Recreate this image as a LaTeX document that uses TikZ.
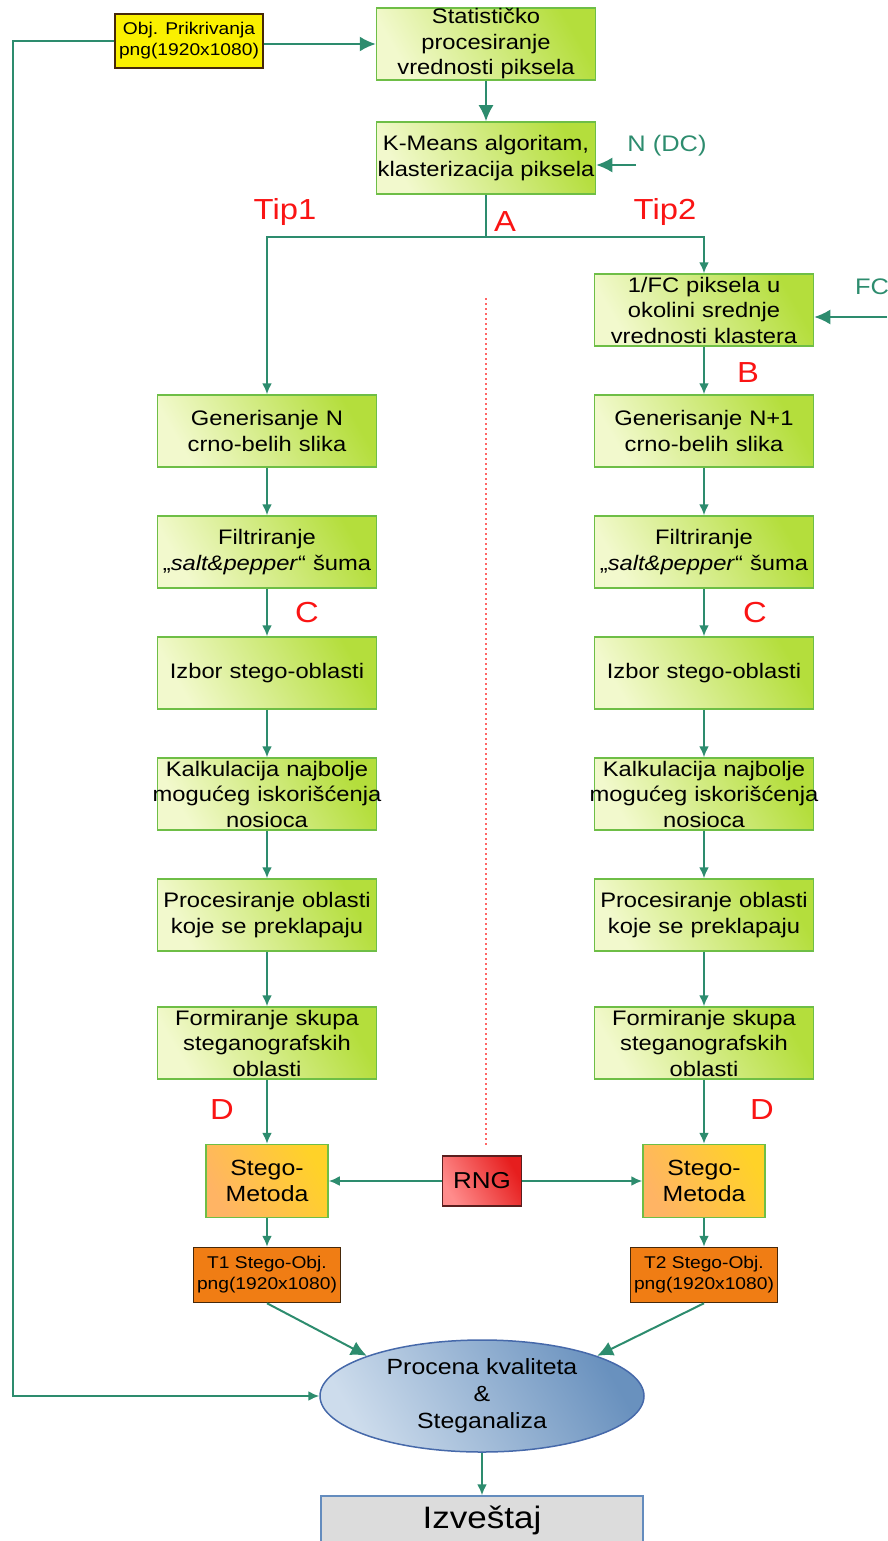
\documentclass[tikz,border=0pt]{standalone}
\usepackage{fontspec}
\setmainfont{Liberation Sans}[FakeStretch=1.13]
\usetikzlibrary{arrows.meta,shapes.geometric,calc}

\definecolor{linkteal}{RGB}{45,140,110}
\definecolor{boxgreen}{RGB}{110,190,70}
\definecolor{lightgreen}{RGB}{242,249,205}
\definecolor{darkgreen}{RGB}{180,222,60}
\definecolor{markred}{RGB}{250,20,20}
\definecolor{lightorange}{RGB}{255,180,100}
\definecolor{darkorange}{RGB}{255,210,40}
\definecolor{outorange}{RGB}{240,125,20}
\definecolor{outbrown}{RGB}{70,40,10}
\definecolor{objyellow}{RGB}{250,240,0}
\definecolor{lightred}{RGB}{255,140,140}
\definecolor{darkred}{RGB}{230,30,30}
\definecolor{rngborder}{RGB}{90,30,30}
\definecolor{lightblue}{RGB}{205,220,236}
\definecolor{darkblue}{RGB}{105,145,190}
\definecolor{evalborder}{RGB}{70,105,170}
\definecolor{reportborder}{RGB}{100,140,190}
\definecolor{reportgray}{RGB}{220,220,220}

\tikzset{
	proc/.style={draw=boxgreen, line width=1.5pt, left color=lightgreen, right color=darkgreen, shading angle=120,
		text width=219pt, minimum height=72pt, inner sep=0pt, align=center,
		font=\fontsize{21}{25.5}\selectfont},
	stego/.style={draw=boxgreen, line width=1.5pt, left color=lightorange, right color=darkorange, shading angle=120,
		minimum width=122pt, minimum height=73pt, inner sep=0pt, align=center,
		font=\fontsize{22}{26}\selectfont},
	outbox/.style={draw=outbrown, line width=1.5pt, fill=outorange,
		minimum width=147pt, minimum height=55pt, inner sep=0pt, align=center,
		font=\fontsize{17}{21}\selectfont},
	objbox/.style={outbox, fill=objyellow, minimum width=148pt, minimum height=54pt},
	rngbox/.style={draw=rngborder, line width=1.5pt, left color=lightred, right color=darkred, shading angle=120,
		minimum width=79pt, minimum height=50pt, inner sep=0pt, font=\fontsize{23}{28}\selectfont},
	evalnode/.style={ellipse, draw=evalborder, line width=1.5pt, left color=lightblue, right color=darkblue, shading angle=120,
		minimum width=324pt, minimum height=112pt, inner sep=0pt, align=center,
		font=\fontsize{22}{27}\selectfont},
	report/.style={draw=reportborder, line width=1.5pt, fill=reportgray,
		minimum width=322pt, minimum height=48pt, inner sep=0pt, font=\fontsize{31}{36}\selectfont},
	redmark/.style={text=markred, font=\fontsize{29}{30}\selectfont},
	inlbl/.style={text=linkteal, font=\fontsize{22.5}{28}\selectfont},
	link/.style={draw=linkteal, line width=2pt},
	flow/.style={link, -{Latex[length=11pt, width=10pt]}},
	bigflow/.style={link, -{Latex[length=16pt, width=15pt]}}
}

\begin{document}
\begin{tikzpicture}[x=1pt, y=-1pt]
	\useasboundingbox (0,0) rectangle (887,1541);

	\node[objbox](obj) at (189,41) {Obj. Prikrivanja\\png(1920x1080)};
	\node[proc](stat) at (486,44) {Statističko\\procesiranje\\vrednosti piksela};
	\node[proc](kmeans) at (486,158) {K-Means algoritam,\\klasterizacija piksela};
	\node[inlbl](ndc) at (667,146) {N (DC)};
	\coordinate(ndcin) at (636,165);

	\node[redmark](tip1) at (285,212) {Tip1};
	\node[redmark](tip2) at (665,212) {Tip2};
	\node[redmark](lblA) at (505,222) {A};
	\coordinate(split) at (486,237);

	% Tip2 ulaz
	\node[proc](fc) at (704,310) {1/FC piksela u\\okolini srednje\\vrednosti klastera};
	\node[inlbl](fclbl) at (872,287) {FC};
	\coordinate(fcin) at (887,317);
	\node[redmark](lblB) at (748,373) {B};

	% leva kolona
	\node[proc](gen1) at (267,431) {Generisanje N\\crno-belih slika};
	\node[proc](filt1) at (267,552) {Filtriranje\\„\textit{salt\&pepper}“ šuma};
	\node[redmark](lblC1) at (307,613) {C};
	\node[proc](izb1) at (267,673) {Izbor stego-oblasti};
	\node[proc](kalk1) at (267,794) {Kalkulacija najbolje\\\makebox[\linewidth]{mogućeg iskorišćenja}\\nosioca};
	\node[proc](prek1) at (267,915) {Procesiranje oblasti\\koje se preklapaju};
	\node[proc](form1) at (267,1043) {Formiranje skupa\\steganografskih\\oblasti};
	\node[redmark](lblD1) at (222,1110) {D};
	\node[stego](stego1) at (267,1181) {Stego-\\Metoda};
	\node[outbox](t1) at (267,1275) {T1 Stego-Obj.\\png(1920x1080)};

	% desna kolona
	\node[proc](gen2) at (704,431) {Generisanje N+1\\crno-belih slika};
	\node[proc](filt2) at (704,552) {Filtriranje\\„\textit{salt\&pepper}“ šuma};
	\node[redmark](lblC2) at (755,613) {C};
	\node[proc](izb2) at (704,673) {Izbor stego-oblasti};
	\node[proc](kalk2) at (704,794) {Kalkulacija najbolje\\\makebox[\linewidth]{mogućeg iskorišćenja}\\nosioca};
	\node[proc](prek2) at (704,915) {Procesiranje oblasti\\koje se preklapaju};
	\node[proc](form2) at (704,1043) {Formiranje skupa\\steganografskih\\oblasti};
	\node[redmark](lblD2) at (762,1110) {D};
	\node[stego](stego2) at (704,1181) {Stego-\\Metoda};
	\node[outbox](t2) at (704,1275) {T2 Stego-Obj.\\png(1920x1080)};

	\node[rngbox](rng) at (482,1181) {RNG};
	\coordinate(dotT) at (486,298);
	\coordinate(dotB) at (486,1145);

	\node[evalnode](eval) at (482,1396) {Procena kvaliteta\\\&\\Steganaliza};
	\node[report](report) at (482,1520) {Izveštaj};
	\coordinate(loopT) at (13,41);
	\coordinate(loopB) at (13,1396);

	\draw[red!60, line width=1.5pt, dash pattern=on 2pt off 3pt] (dotT)--(dotB);

	\draw[bigflow] (obj.east |- stat.west)--(stat.west);
	\draw[bigflow] (stat)--(kmeans);
	\draw[bigflow] (ndcin)--(ndcin -| kmeans.east);
	\draw[bigflow] (fcin)--(fcin -| fc.east);
	\draw[link] (kmeans)--(split);
	\draw[flow] (split) -| (gen1);
	\draw[flow] (split) -| (fc);
	\draw[flow] (fc)--(gen2);

	\draw[flow] (gen1)--(filt1);
	\draw[flow] (filt1)--(izb1);
	\draw[flow] (izb1)--(kalk1);
	\draw[flow] (kalk1)--(prek1);
	\draw[flow] (prek1)--(form1);
	\draw[flow] (form1)--(stego1);
	\draw[flow] (stego1)--(t1);

	\draw[flow] (gen2)--(filt2);
	\draw[flow] (filt2)--(izb2);
	\draw[flow] (izb2)--(kalk2);
	\draw[flow] (kalk2)--(prek2);
	\draw[flow] (prek2)--(form2);
	\draw[flow] (form2)--(stego2);
	\draw[flow] (stego2)--(t2);

	\draw[flow] (rng)--(stego1);
	\draw[flow] (rng)--(stego2);

	\draw[bigflow] (t1.south)--(eval.north west);
	\draw[bigflow] (t2.south)--(eval.north east);
	\draw[flow] (obj)--(loopT)--(loopB)--(eval);
	\draw[flow] (eval)--(report);
\end{tikzpicture}
\end{document}
